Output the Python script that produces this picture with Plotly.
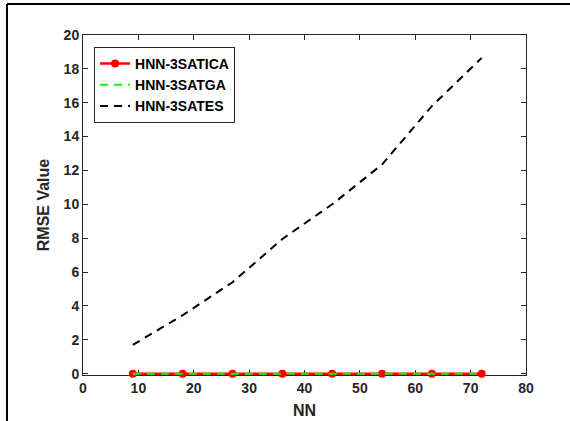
import plotly.graph_objects as go

nn = [9, 18, 27, 36, 45, 54, 63, 72]
rmse_ica = [0, 0, 0, 0, 0, 0, 0, 0]
rmse_ga = [0, 0, 0, 0, 0, 0, 0, 0]
rmse_es = [1.7, 3.45, 5.4, 7.95, 10.0, 12.35, 15.8, 18.65]

FONT = "Liberation Sans, Arial, sans-serif"
TXT = "#262626"

fig = go.Figure()
fig.add_trace(go.Scatter(x=nn, y=rmse_ica, name="HNN-3SATICA", mode="lines+markers",
                         cliponaxis=False,
                         line=dict(color="#ff0000", width=2.5),
                         marker=dict(color="#ff0000", size=8, symbol="circle")))
fig.add_trace(go.Scatter(x=nn, y=rmse_ga, name="HNN-3SATGA", mode="lines",
                         cliponaxis=False,
                         line=dict(color="#00ff00", width=2, dash="8px,6px")))
fig.add_trace(go.Scatter(x=nn, y=rmse_es, name="HNN-3SATES", mode="lines",
                         cliponaxis=False,
                         line=dict(color="#000000", width=2, dash="8px,6px")))

axis_common = dict(showline=True, linecolor="#262626", linewidth=1, mirror="ticks",
                   ticks="inside", ticklen=5, tickcolor="#262626", tickwidth=1,
                   showgrid=False, zeroline=False, layer="below traces", automargin=False,
                   tickfont=dict(family=FONT, size=14, color=TXT, weight="bold"))

fig.update_xaxes(range=[0, 80], tickvals=list(range(0, 81, 10)),
                 title=dict(text="NN", font=dict(family=FONT, size=16, color=TXT, weight="bold"), standoff=10),
                 **axis_common)
fig.update_yaxes(range=[-0.08, 20], tickvals=list(range(0, 21, 2)),
                 title=dict(text="RMSE Value", font=dict(family=FONT, size=16, color=TXT, weight="bold"), standoff=10),
                 **axis_common)

fig.update_layout(
    width=570, height=421,
    margin=dict(l=83, r=44, t=35, b=46),
    paper_bgcolor="white", plot_bgcolor="white",
    showlegend=True,
    legend=dict(x=0.025, y=0.965, xanchor="left", yanchor="top",
                bgcolor="white", bordercolor="#262626", borderwidth=1,
                font=dict(family=FONT, size=14, color="#000000", weight="bold"),
                tracegroupgap=0, itemwidth=30),
    shapes=[
        dict(type="line", xref="paper", yref="paper", x0=-0.1716, x1=-0.1716, y0=-0.3, y1=1.0914,
             line=dict(color="black", width=2)),
        dict(type="line", xref="paper", yref="paper", x0=-0.1716, x1=1.2, y0=1.0914, y1=1.0914,
             line=dict(color="black", width=2)),
    ],
)

fig.write_html("out.html")
